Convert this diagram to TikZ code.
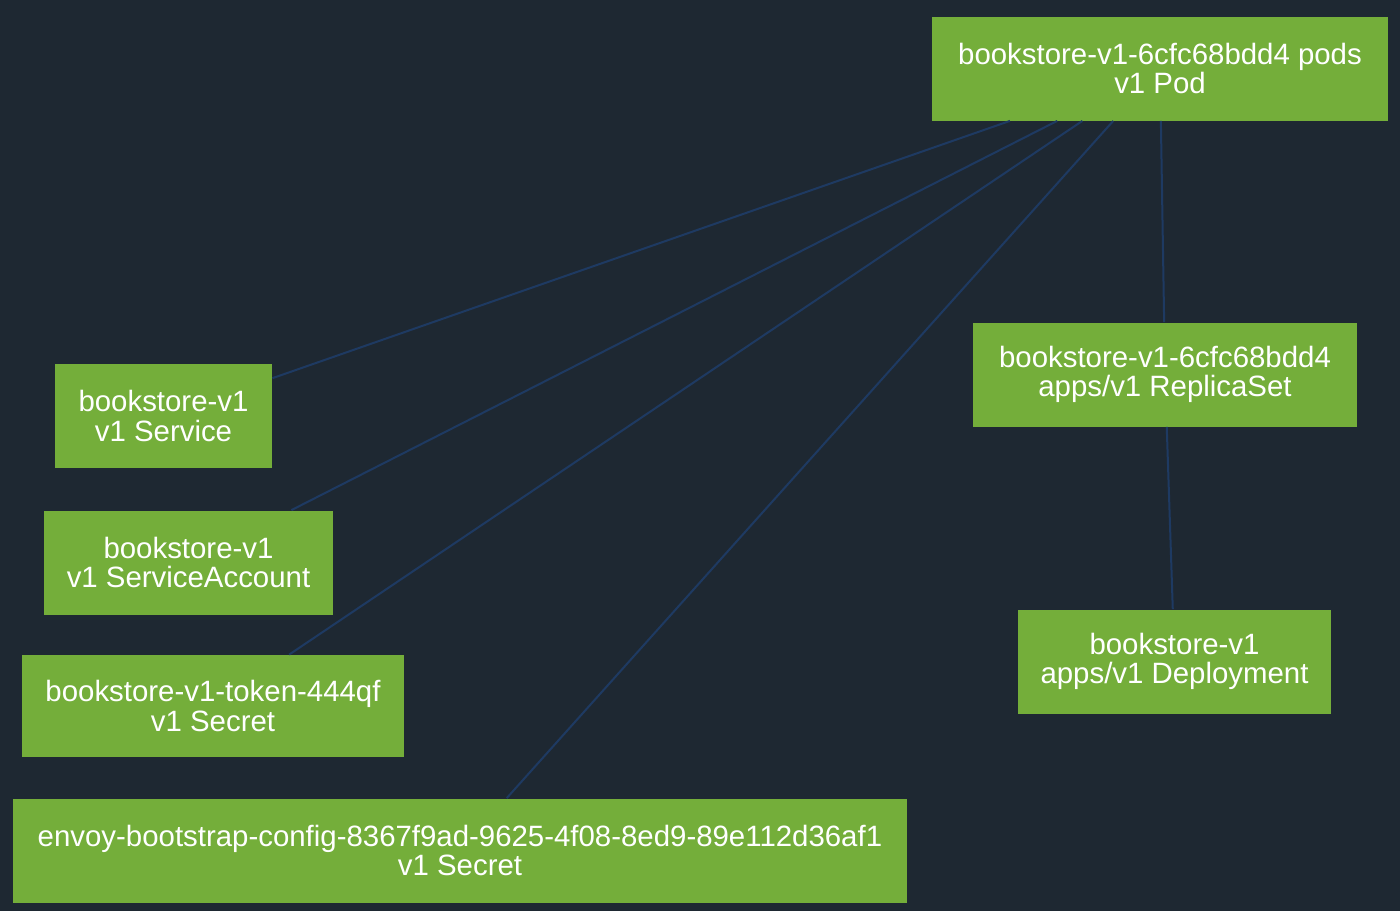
\documentclass[tikz,border=0pt]{standalone}
\usepackage{fontspec}
\setmainfont{Liberation Sans}
\definecolor{bgdark}{RGB}{30,40,50}
\definecolor{kgreen}{RGB}{116,174,58}
\definecolor{kedge}{RGB}{30,58,98}
\begin{document}
\begin{tikzpicture}[x=0.5pt,y=-0.5pt,
    res/.style={fill=kgreen,text=white,align=center,inner sep=0pt,minimum height=52pt,
      font=\fontsize{14.7}{14.6}\selectfont},
    link/.style={kedge,line width=1pt}]
        \fill[bgdark] (0,0) rectangle (1400,911);
        \node[res,minimum width=228pt] (pod) at (1160,68.5) {bookstore-v1-6cfc68bdd4 pods\\v1 Pod};
        \node[res,minimum width=192pt] (rs) at (1165,374.5) {bookstore-v1-6cfc68bdd4\\apps/v1 ReplicaSet};
        \node[res,minimum width=156.5pt] (deploy) at (1174.5,661.5) {bookstore-v1\\apps/v1 Deployment};
        \node[res,minimum width=108.5pt] (svc) at (163.5,416) {bookstore-v1\\v1 Service};
        \node[res,minimum width=144.5pt] (sa) at (188.5,562.5) {bookstore-v1\\v1 ServiceAccount};
        \node[res,minimum width=191pt,minimum height=51pt] (token) at (213,706) {bookstore-v1-token-444qf\\v1 Secret};
        \node[res,minimum width=447pt] (envoy) at (460,850.5) {envoy-bootstrap-config-8367f9ad-9625-4f08-8ed9-89e112d36af1\\v1 Secret};
        \draw[link] (pod) -- (svc);
        \draw[link] (pod) -- (sa);
        \draw[link] (pod) -- (token);
        \draw[link] (pod) -- (envoy);
        \draw[link] (pod) -- (rs);
        \draw[link] (rs) -- (deploy);
    \end{tikzpicture}
\end{document}
